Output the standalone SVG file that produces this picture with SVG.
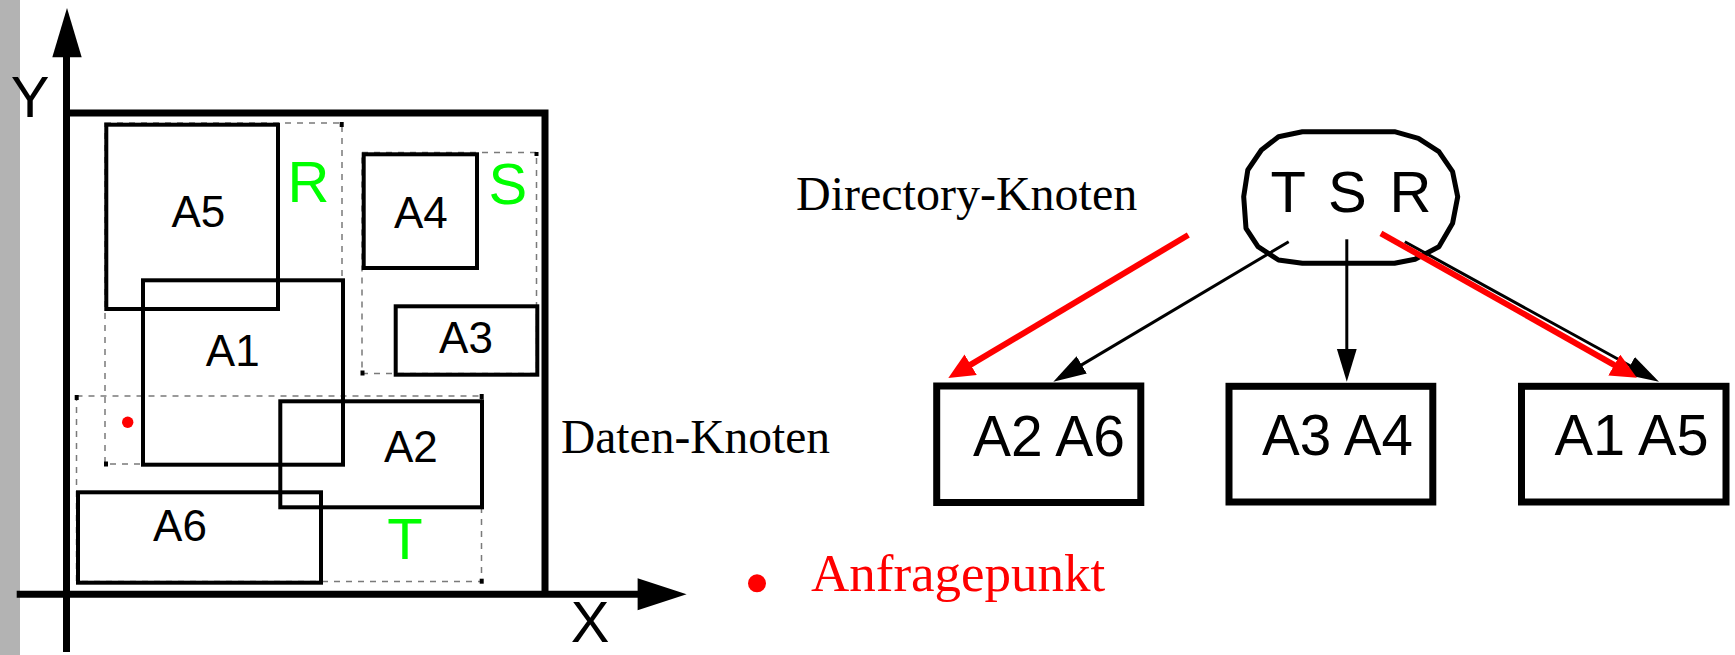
<svg xmlns="http://www.w3.org/2000/svg" width="1735" height="655" viewBox="0 0 1735 655">
<style>
.box{fill:none;stroke:#000;stroke-width:4}
.dash{fill:none;stroke:#7a7a7a;stroke-width:1.5;stroke-dasharray:6 6}
.mk{fill:#000}
.lab{font-family:"Liberation Sans",Arial,sans-serif;font-size:44px;fill:#000;text-anchor:middle}
.big{font-family:"Liberation Sans",Arial,sans-serif;font-size:58px;text-anchor:middle}
.grn{fill:#00ff00}
.serif{font-family:"Liberation Serif","Times New Roman",serif;font-size:48px;fill:#000}
.node{fill:#fff;stroke:#000;stroke-width:7}
.ntext{font-family:"Liberation Sans",Arial,sans-serif;font-size:57px;fill:#000}
.blk{stroke:#000;stroke-width:3;fill:none}
.red{stroke:#ff0000;stroke-width:6;fill:none}
</style>
<defs>
<marker id="ab" markerUnits="userSpaceOnUse" markerWidth="34" markerHeight="22" refX="27" refY="10" orient="auto">
<path d="M0,0 L33,10 L0,20 z" fill="#000"/>
</marker>
<marker id="ar" markerUnits="userSpaceOnUse" markerWidth="28" markerHeight="26" refX="18" refY="12" orient="auto">
<path d="M0,0 L26,12 L0,24 z" fill="#ff0000"/>
</marker>
</defs>
<rect x="0" y="0" width="1735" height="655" fill="#fff"/>
<rect x="0" y="0" width="20" height="655" fill="#b3b3b3"/>

<g id="axes">
<line x1="66.5" y1="55" x2="66.5" y2="652" stroke="#000" stroke-width="7"/>
<polygon points="67,8 52.3,57.3 81.7,57.3" fill="#000"/>
<line x1="16.7" y1="594.3" x2="640" y2="594.3" stroke="#000" stroke-width="7"/>
<polygon points="686.6,594.3 637.6,578.3 637.6,610.3" fill="#000"/>
<text class="big" x="30" y="117" fill="#000">Y</text>
<text class="big" x="590" y="642" fill="#000">X</text>
</g>

<g id="space">
<path d="M66.5,113 H545 V594.3" fill="none" stroke="#000" stroke-width="7"/>
</g>

<g id="regions">
<rect class="dash" x="105" y="123" width="237" height="341"/>
<rect class="dash" x="362" y="152.5" width="174.5" height="221"/>
<rect class="dash" x="76.5" y="396" width="405" height="185.5"/>
<rect class="mk" x="339.7" y="122" width="4" height="5"/>
<rect class="mk" x="104" y="461.5" width="4" height="5"/>
<rect class="mk" x="534.5" y="152" width="4" height="4"/>
<rect class="mk" x="360.5" y="370.5" width="4" height="5"/>
<rect class="mk" x="74.7" y="395" width="4" height="5"/>
<rect class="mk" x="479.7" y="394" width="4" height="5"/>
<rect class="mk" x="479.7" y="578.7" width="4" height="5"/>
<text class="big grn" x="308.5" y="201.7">R</text>
<text class="big grn" x="507.8" y="204">S</text>
<text class="big grn" x="405" y="559">T</text>
</g>

<g id="A5"><rect class="box" x="106.3" y="124.7" width="171.7" height="184.3"/><text class="lab" x="198.3" y="226.7">A5</text></g>
<g id="A4"><rect class="box" x="363.7" y="154.3" width="113.3" height="113.7"/><text class="lab" x="420.8" y="228.3">A4</text></g>
<g id="A1"><rect class="box" x="143" y="280.3" width="200" height="184.4"/><text class="lab" x="232.7" y="365.7">A1</text></g>
<g id="A3"><rect class="box" x="395.7" y="306.3" width="141.6" height="68.4"/><text class="lab" x="466" y="353.3">A3</text></g>
<g id="A2"><rect class="box" x="280.3" y="401.3" width="201.7" height="106"/><text class="lab" x="410.8" y="461.7">A2</text></g>
<g id="A6"><rect class="box" x="78" y="492.3" width="243" height="90.4"/><text class="lab" x="180" y="540.7">A6</text></g>

<circle id="query" cx="127.7" cy="422.3" r="5.7" fill="#ff0000"/>

<g id="labels">
<text class="serif" x="796" y="210">Directory-Knoten</text>
<text class="serif" x="561" y="453.3" textLength="269" lengthAdjust="spacingAndGlyphs">Daten-Knoten</text>
<circle cx="757" cy="583.3" r="9" fill="#ff0000"/>
<text class="serif" x="811" y="590.7" style="font-size:53px;fill:#ff0000">Anfragepunkt</text>
</g>

<g id="dir">
<path d="M1302.4,131.7 L1394.5,131.7 L1418.4,138.3 L1438.9,151.7 L1452.6,171.7 L1457.7,196.7 L1452.6,223.3 L1438.9,246.7 L1415,259.3 L1394.5,263.3 L1302.4,263.3 L1278.5,260 L1258,246.7 L1246,228.3 L1243.7,196.7 L1247.8,170 L1261.4,150 L1278.5,136.7 Z" fill="#fff" stroke="#000" stroke-width="5" stroke-linejoin="round"/>
<text class="ntext" x="1270.5" y="211.7" textLength="161" lengthAdjust="spacing" style="font-size:58px">T S R</text>
</g>

<g id="leafA2A6"><rect class="node" x="936.7" y="386" width="204.1" height="116.5"/><text class="ntext" x="973" y="455.7" textLength="152" lengthAdjust="spacingAndGlyphs">A2 A6</text></g>
<g id="leafA3A4"><rect class="node" x="1229" y="386.3" width="203.8" height="115.7"/><text class="ntext" x="1262" y="455" textLength="151" lengthAdjust="spacingAndGlyphs">A3 A4</text></g>
<g id="leafA1A5"><rect class="node" x="1521.5" y="386.3" width="204.5" height="115.7"/><text class="ntext" x="1554.5" y="455" textLength="154" lengthAdjust="spacingAndGlyphs">A1 A5</text></g>

<g id="connectors">
<line class="blk" x1="1288.7" y1="241.7" x2="1058.5" y2="378.6" marker-end="url(#ab)"/>
<line class="blk" x1="1346.8" y1="239.3" x2="1346.8" y2="375.7" marker-end="url(#ab)"/>
<line class="blk" x1="1404.8" y1="241.7" x2="1653.7" y2="378.8" marker-end="url(#ab)"/>
<line class="red" x1="1188.3" y1="235" x2="955.2" y2="373.9" marker-end="url(#ar)"/>
<line class="red" x1="1380.9" y1="233.3" x2="1629.9" y2="373.8" marker-end="url(#ar)"/>
</g>
</svg>
